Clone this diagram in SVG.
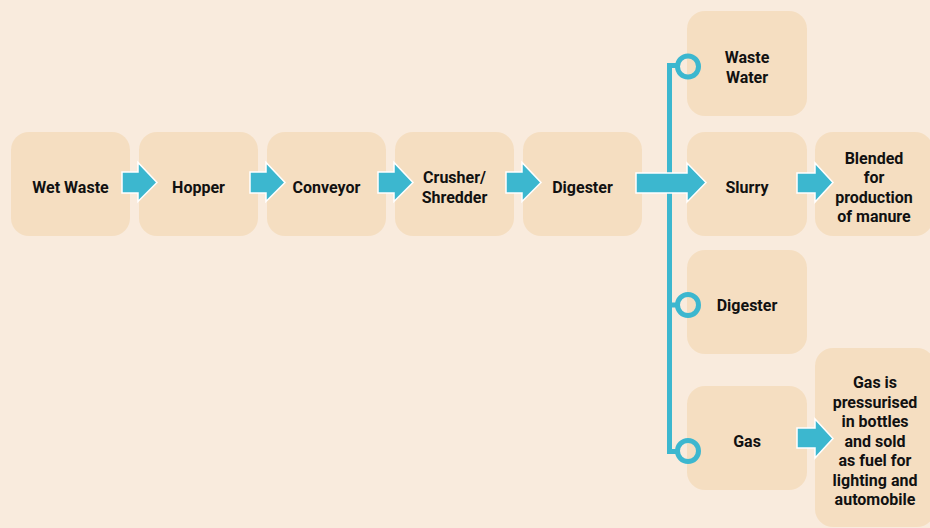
<svg xmlns="http://www.w3.org/2000/svg" width="930" height="528" viewBox="0 0 930 528">
<style>
.box{fill:#F5DEC1}
.t{font-family:Roboto,"Liberation Sans",sans-serif;font-weight:bold;font-size:16px;fill:#111;text-anchor:middle}
.arr{fill:#3CB7CF;stroke:#fff;stroke-width:1.5;stroke-linejoin:miter}
.ln{fill:none;stroke:#3CB7CF;stroke-width:5}
.ring{fill:none;stroke:#3CB7CF;stroke-width:5}
</style>
<rect width="930" height="528" fill="#F9EBDD"/>
<g id="wet-waste"><rect class="box" x="11" y="132" width="119" height="104" rx="18"/><text class="t" x="70.5" y="192.5">Wet Waste</text></g>
<g id="hopper"><rect class="box" x="139" y="132" width="119" height="104" rx="18"/><text class="t" x="198.5" y="192.5">Hopper</text></g>
<g id="conveyor"><rect class="box" x="267" y="132" width="119" height="104" rx="18"/><text class="t" x="326.5" y="192.5">Conveyor</text></g>
<g id="crusher"><rect class="box" x="395" y="132" width="119" height="104" rx="18"/><text class="t" x="454.5" y="183">Crusher/</text><text class="t" x="454.5" y="202.5">Shredder</text></g>
<g id="digester"><rect class="box" x="523" y="132" width="119" height="104" rx="18"/><text class="t" x="582.5" y="192.5">Digester</text></g>
<g id="waste-water"><rect class="box" x="687" y="11" width="120" height="105" rx="18"/><text class="t" x="747" y="63">Waste</text><text class="t" x="747" y="82.5">Water</text></g>
<g id="slurry"><rect class="box" x="687" y="132" width="120" height="104" rx="18"/><text class="t" x="747" y="192.5">Slurry</text></g>
<g id="digester2"><rect class="box" x="687" y="250" width="120" height="104" rx="18"/><text class="t" x="747" y="310.5">Digester</text></g>
<g id="gas"><rect class="box" x="687" y="386" width="120" height="104" rx="18"/><text class="t" x="747" y="446.5">Gas</text></g>
<g id="blended"><rect class="box" x="815" y="132" width="118" height="104" rx="18"/><text class="t" x="874" y="163.5">Blended</text><text class="t" x="874" y="183">for</text><text class="t" x="874" y="202.5">production</text><text class="t" x="874" y="222">of manure</text></g>
<g id="gas-use"><rect class="box" x="815" y="348" width="120" height="179" rx="18"/><text class="t" x="875" y="388">Gas is</text><text class="t" x="875" y="407.5">pressurised</text><text class="t" x="875" y="427">in bottles</text><text class="t" x="875" y="446.5">and sold</text><text class="t" x="875" y="466">as fuel for</text><text class="t" x="875" y="485.5">lighting and</text><text class="t" x="875" y="505">automobile</text></g>
<g id="connectors">
<path class="ln" d="M678 65.5 H669.5 V451.5 H678 M669.5 305 H678"/>
<circle class="ring" cx="688" cy="66.5" r="10.5"/>
<circle class="ring" cx="688" cy="305" r="10.5"/>
<circle class="ring" cx="688" cy="451" r="10.5"/>
<polygon class="arr" points="122,172 138,172 138,162.5 157,182.5 138,201.5 138,193 122,193"/>
<polygon class="arr" points="250,172 266,172 266,162.5 285,182.5 266,201.5 266,193 250,193"/>
<polygon class="arr" points="378,172 394,172 394,162.5 413,182.5 394,201.5 394,193 378,193"/>
<polygon class="arr" points="506,172 522,172 522,162.5 541,182.5 522,201.5 522,193 506,193"/>
<polygon class="arr" points="636,173 687,173 687,163 706,182.5 687,202 687,193 636,193"/>
<polygon class="arr" points="797,173 815,173 815,163 833,182.5 815,202 815,193 797,193"/>
<polygon class="arr" points="797,428 815,428 815,419 833,438.5 815,458 815,448 797,448"/>
</g>
</svg>
